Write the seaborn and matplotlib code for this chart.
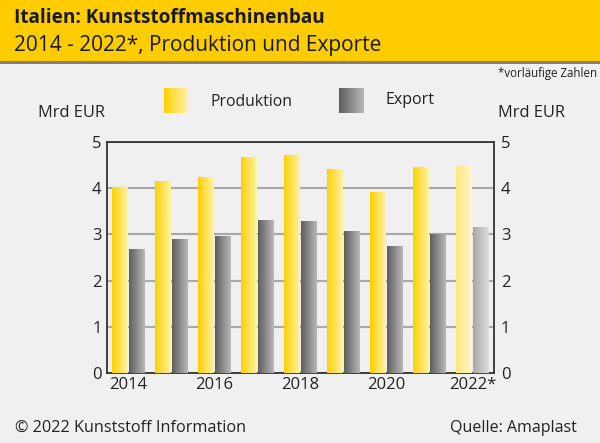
import matplotlib
matplotlib.use("Agg")
import matplotlib.pyplot as plt
import numpy as np
import pandas as pd
import seaborn as sns
from matplotlib.patches import Rectangle

# data
years = ['2014', '2015', '2016', '2017', '2018', '2019', '2020', '2021', '2022*']
produktion = [4.01, 4.15, 4.24, 4.67, 4.71, 4.40, 3.91, 4.45, 4.50]
export = [2.68, 2.90, 2.96, 3.31, 3.27, 3.06, 2.74, 2.99, 3.16]
tick_labels = ['2014', '', '2016', '', '2018', '', '2020', '', '2022*']

BG = '#eff0ef'
sns.set_theme(style='white')
plt.rcParams['font.family'] = ['Open Sans', 'DejaVu Sans']

df = pd.DataFrame({'Jahr': years * 2,
                   'Wert': produktion + export,
                   'Serie': ['Produktion'] * len(years) + ['Export'] * len(years)})

fig = plt.figure(figsize=(6, 4.43), dpi=100, facecolor=BG)
ax = fig.add_axes([107 / 600, 1 - 373 / 443, 387 / 600, 231 / 443])
ax.set_facecolor(BG)

sns.barplot(data=df, x='Jahr', y='Wert', hue='Serie', ax=ax, width=0.78,
            palette=['#ffd000', '#888888'], legend=False, saturation=1, gap=0.06)


def gradient(c1, c2):
    c1 = np.array(matplotlib.colors.to_rgb(c1))
    c2 = np.array(matplotlib.colors.to_rgb(c2))
    t = np.linspace(0, 1, 64)[None, :, None]
    return c1 + (c2 - c1) * t


yellow = gradient('#ffd000', '#fff2a8')
yellow_light = gradient('#ffe680', '#fff6c8')
grey = gradient('#5e5e5e', '#b8b8b8')
grey_light = gradient('#a8a8a8', '#dedede')

n = len(years)
for i, bar in enumerate(ax.patches[:2 * n]):
    x0, y0 = bar.get_x(), bar.get_y()
    w, h = bar.get_width(), bar.get_height()
    if i < n:
        img = yellow_light if i == n - 1 else yellow
    else:
        img = grey_light if i == 2 * n - 1 else grey
    bar.set_visible(False)
    ax.imshow(img, extent=[x0, x0 + w, y0, y0 + h], aspect='auto', zorder=3)

ax.set_xlim(-0.5, n - 0.5)
ax.set_ylim(0, 5)
ax.set_yticks([0, 1, 2, 3, 4, 5])
ax.yaxis.grid(True, color='#a8a8a8', linewidth=1.5)
ax.set_axisbelow(True)
ax.set_xlabel('')
ax.set_ylabel('')
ax.set_xticks(range(n))
ax.set_xticklabels(tick_labels)
ax.tick_params(axis='both', length=0, labelsize=12, colors='#222222')
ax.tick_params(axis='x', pad=3)
ax.tick_params(axis='y', pad=4)
for s in ax.spines.values():
    s.set_color('#333333')
    s.set_linewidth(1.3)

ax2 = ax.twinx()
ax2.set_ylim(0, 5)
ax2.set_yticks([0, 1, 2, 3, 4, 5])
ax2.tick_params(axis='y', length=0, labelsize=12, colors='#222222', pad=5)
for s in ax2.spines.values():
    s.set_visible(False)
ax2.grid(False)

# header
fig.patches.append(Rectangle((0, 1 - 61 / 443), 1, 61 / 443, transform=fig.transFigure,
                             facecolor='#ffcc00', edgecolor='none', zorder=0))
fig.patches.append(Rectangle((0, 1 - 64 / 443), 1, 3 / 443, transform=fig.transFigure,
                             facecolor='#808080', edgecolor='none', zorder=0))
fig.text(14 / 600, 1 - 18 / 443, 'Italien: Kunststoffmaschinenbau', fontsize=13.7,
         fontweight='bold', color='#1a1a1a', va='center')
fig.text(14 / 600, 1 - 45 / 443, '2014 - 2022*, Produktion und Exporte', fontsize=15,
         color='#1a1a1a', va='center')
fig.text(597 / 600, 1 - 73 / 443, '*vorläufige Zahlen', fontsize=8.3,
         color='#222222', ha='right', va='center')

# legend swatches with the same gradients as the bars
for left, img in [(164, yellow), (339, grey)]:
    sw = fig.add_axes([left / 600, 1 - 113 / 443, 24 / 600, 25 / 443])
    sw.imshow(img, aspect='auto')
    sw.set_axis_off()
fig.text(211 / 600, 1 - 102 / 443, 'Produktion', fontsize=11.3, color='#222222', va='center')
fig.text(385 / 600, 1 - 100 / 443, 'Export', fontsize=11.5, color='#222222', va='center')
fig.text(38 / 600, 1 - 113 / 443, 'Mrd EUR', fontsize=11.8, color='#222222', va='center')
fig.text(498 / 600, 1 - 113 / 443, 'Mrd EUR', fontsize=11.8, color='#222222', va='center')

# footer
fig.text(15 / 600, 1 - 428 / 443, '© 2022 Kunststoff Information', fontsize=11.7,
         color='#222222', va='center')
fig.text(577 / 600, 1 - 428 / 443, 'Quelle: Amaplast', fontsize=11.5,
         color='#222222', va='center', ha='right')

fig.savefig('out.png', dpi=100, facecolor=BG)
